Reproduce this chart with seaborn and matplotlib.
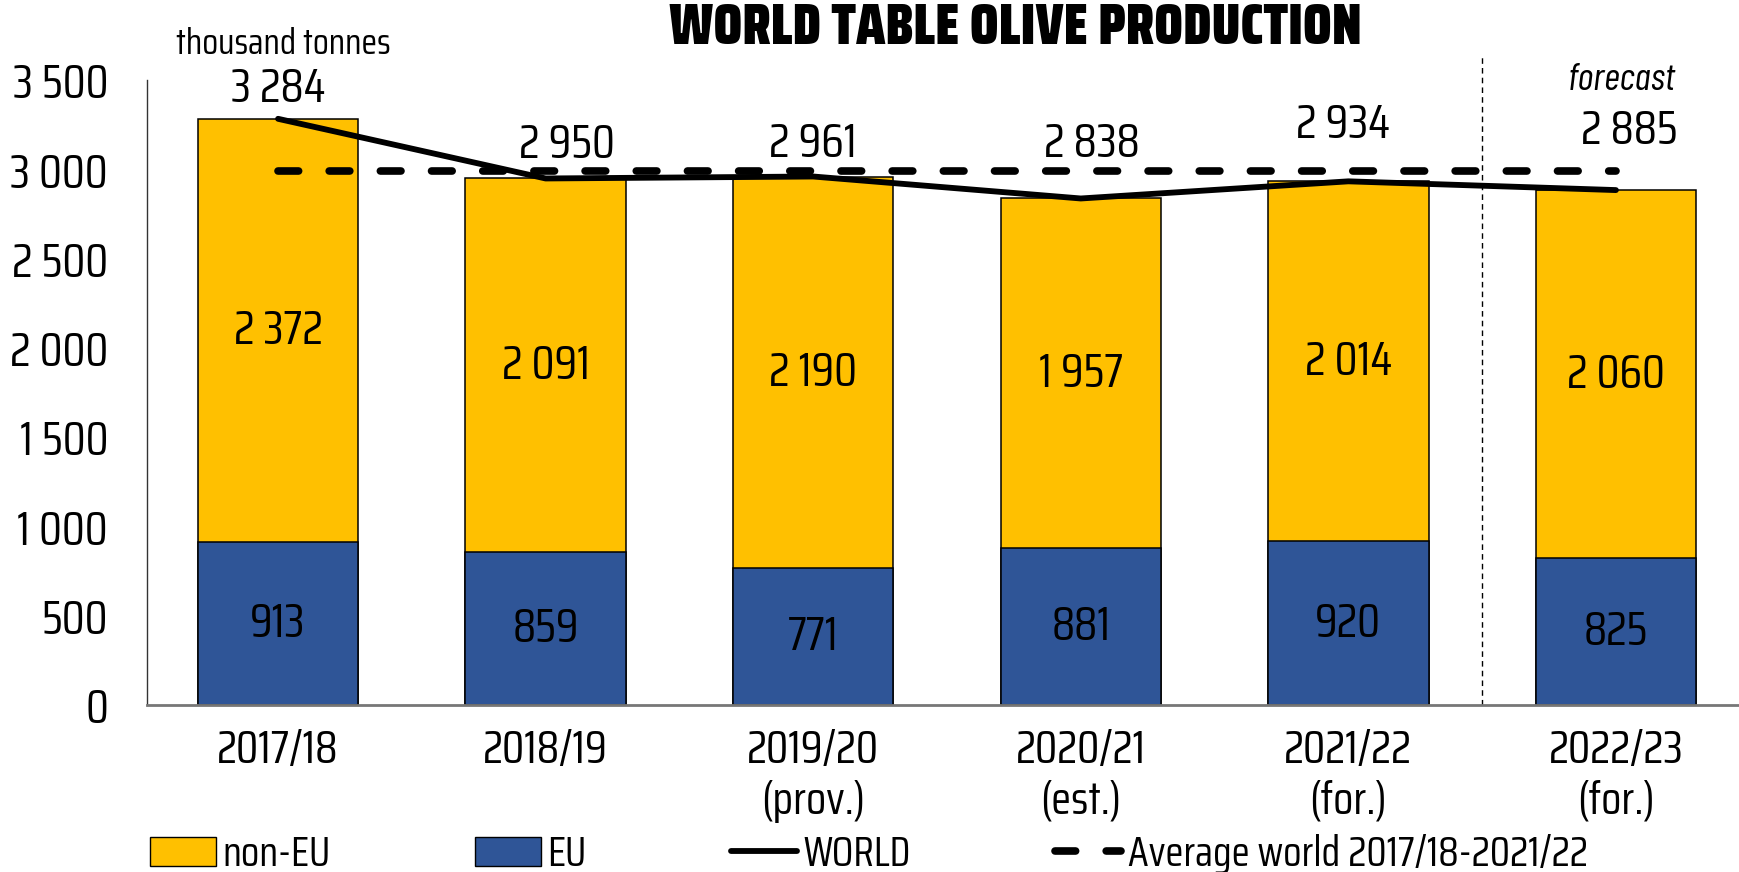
import numpy as np
import pandas as pd
import matplotlib
matplotlib.use("Agg")
import matplotlib.pyplot as plt
import seaborn as sns
from matplotlib.patches import Patch
from matplotlib.lines import Line2D

# data (thousand tonnes)
seasons = ["2017/18", "2018/19", "2019/20\n(prov.)", "2020/21\n(est.)", "2021/22\n(for.)", "2022/23\n(for.)"]
non_eu = [2372, 2091, 2190, 1957, 2014, 2060]
eu = [913, 859, 771, 881, 920, 825]
world = [3284, 2950, 2961, 2838, 2934, 2885]
world_label_y = [3455, 3140, 3145, 3145, 3250, 3220]
world_label_dx = [0.0, 0.08, 0.0, 0.04, -0.02, 0.05]

sns.set_style("white")
plt.rcParams["font.family"] = ["Saira Condensed", "Barlow Condensed", "DejaVu Sans"]
plt.rcParams["text.color"] = "black"
plt.rcParams["xtick.color"] = "black"
plt.rcParams["ytick.color"] = "black"


def fmt(v):
    return f"{v:,}".replace(",", " ")


df = pd.DataFrame({"season": seasons, "nonEU": non_eu, "EU": eu})
df["total"] = df["nonEU"] + df["EU"]
avg = np.mean(world[:5])

yellow = "#FFC000"
blue = "#2F5597"
fs = 34
dash = (0, (2.7, 4.0))

fig = plt.figure(figsize=(17.39, 8.72), dpi=100)
ax = fig.add_axes([0.0845, 0.191, 0.9155, 0.717])

sns.barplot(data=df, x="season", y="total", color=yellow, width=0.6,
            edgecolor="black", linewidth=1.1, saturation=1, ax=ax)
sns.barplot(data=df, x="season", y="EU", color=blue, width=0.6,
            edgecolor="black", linewidth=1.1, saturation=1, ax=ax)

x = np.arange(len(seasons))
sns.lineplot(x=x, y=world, color="black", linewidth=4.2, ax=ax, zorder=5,
             solid_capstyle="round")
ax.plot([x[0], x[-1]], [avg, avg], color="black", linewidth=5.5,
        linestyle=dash, dash_capstyle="round", zorder=4)

# value labels
for i in range(len(seasons)):
    ax.text(i, eu[i] / 2, fmt(eu[i]), ha="center", va="center", fontsize=fs)
    ax.text(i, eu[i] + non_eu[i] / 2, fmt(non_eu[i]), ha="center", va="center", fontsize=fs)
    ax.text(i + world_label_dx[i], world_label_y[i], fmt(world[i]),
            ha="center", va="center", fontsize=fs, clip_on=False)

ax.axvline(4.5, ymin=0, ymax=1.037, color="black", linewidth=1, linestyle=(0, (4, 3)), clip_on=False)

ax.set_xlim(-0.49, 5.46)
ax.set_ylim(0, 3500)
ax.set_yticks(range(0, 3501, 500))
ax.set_yticklabels([fmt(v) for v in range(0, 3501, 500)])
ax.set_xlabel("")
ax.set_ylabel("")
ax.set_xticks(x)
ax.set_xticklabels(seasons, linespacing=1.22)
ax.set_xticks(np.arange(0.5, 5, 1), minor=True)
ax.tick_params(axis="x", which="major", length=0, pad=17, labelsize=33)
ax.tick_params(axis="x", which="minor", length=8, direction="in", color="#555555", width=1)
ax.tick_params(axis="y", length=8, direction="in", width=1, pad=28, labelsize=fs)
for s in ["top", "right"]:
    ax.spines[s].set_visible(False)
ax.spines["left"].set_color("#333333")
ax.spines["left"].set_linewidth(1)
ax.spines["bottom"].set_color("#777777")
ax.spines["bottom"].set_linewidth(2)

fig.text(0.584, 0.967, "WORLD TABLE OLIVE PRODUCTION", ha="center", va="center",
         fontsize=41, fontweight=900)
ax.text(0.02, 3700, "thousand tonnes", ha="center", va="center", fontsize=26)
ax.text(5.02, 3500, "forecast", ha="center", va="center", fontsize=28, style="italic",
        family=["Barlow Condensed", "DejaVu Sans"])

handles = [
    Patch(facecolor=yellow, edgecolor="black", linewidth=1),
    Patch(facecolor=blue, edgecolor="black", linewidth=1),
    Line2D([], [], color="black", linewidth=4.2),
    Line2D([], [], color="black", linewidth=5.5, linestyle=dash, dash_capstyle="round"),
]
labels = ["non-EU", "EU", "WORLD", "Average world 2017/18-2021/22"]
fig.legend(handles, labels, loc="center left", bbox_to_anchor=(0.086, 0.021), ncol=4,
           frameon=False, fontsize=30, handlelength=1.6, handletextpad=0.15,
           columnspacing=3.45, borderaxespad=0, borderpad=0)

fig.savefig("out.png", dpi=100)
